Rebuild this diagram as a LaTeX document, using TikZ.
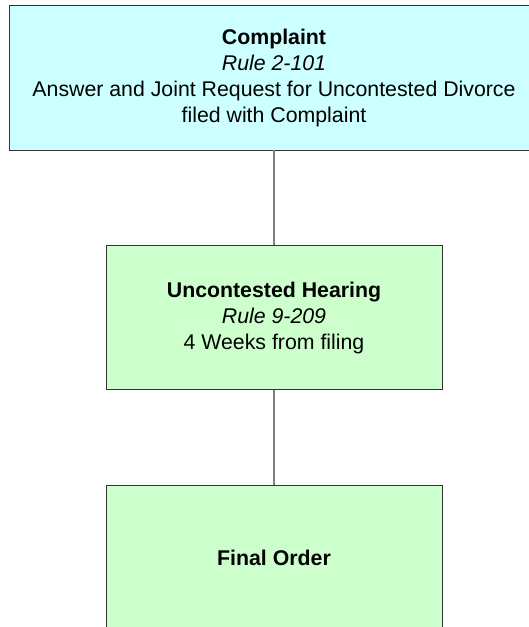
\documentclass[tikz,border=0pt]{standalone}
\usepackage{fontspec}
\setmainfont{Liberation Sans}
\usetikzlibrary{positioning}
\definecolor{filecyan}{RGB}{204,255,255}
\definecolor{heargreen}{RGB}{204,255,204}
\tikzset{
  stepbox/.style  = { draw=black!80, line width=0.9pt, align=center, inner sep=0pt,
    minimum width=336pt, minimum height=144pt, font=\fontsize{21.3}{26}\selectfont },
  filebox/.style  = { stepbox, fill=filecyan, minimum width=530pt, minimum height=145pt },
  hearbox/.style  = { stepbox, fill=heargreen },
  link/.style     = { draw=black!50, line width=1.6pt }
}
\begin{document}
\begin{tikzpicture}[x=1pt,y=1pt,node distance=240pt,on grid]
      \useasboundingbox (0,0) rectangle (529,-627);
      % complaint -> hearing -> order
      \node[filebox] (complaint) at (274,-77.5) {\textbf{Complaint}\\\textit{Rule 2-101}\\Answer and Joint Request for Uncontested Divorce\\filed with Complaint};
      \node[hearbox, below=of complaint] (hearing) {\textbf{Uncontested Hearing}\\\textit{Rule 9-209}\\4 Weeks from filing};
      \node[hearbox, below=of hearing] (order) {\textbf{Final Order}};
      \path[link] (complaint) edge (hearing);
      \path[link] (hearing) edge (order);
    \end{tikzpicture}
\end{document}
